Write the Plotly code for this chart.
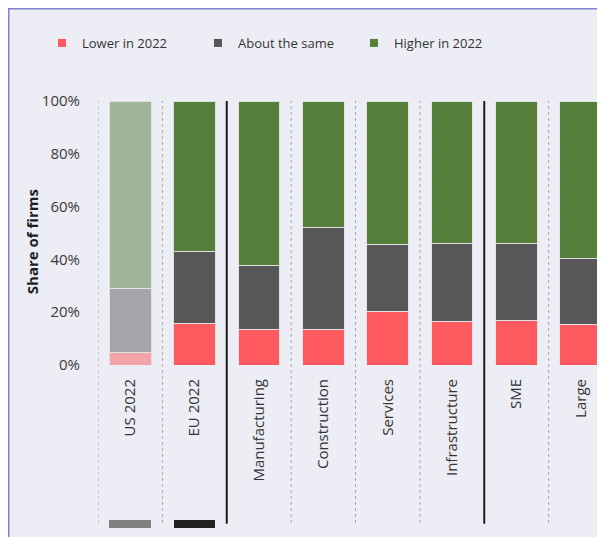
import plotly.graph_objects as go

categories = ["US 2022", "EU 2022", "Manufacturing", "Construction", "Services",
              "Infrastructure", "SME", "Large"]
lower = [4.8, 15.8, 13.3, 13.3, 20.4, 16.3, 16.7, 15.4]
same = [24.3, 27.3, 24.4, 38.8, 25.1, 29.8, 29.2, 24.8]
higher = [70.9, 56.9, 62.3, 47.9, 54.5, 53.9, 54.1, 59.8]
series_names = ["Lower in 2022", "About the same", "Higher in 2022"]
y_ticks = [0, 20, 40, 60, 80, 100]
marker_cats = ["US 2022", "EU 2022"]
marker_vals = [1, 1]

base_colors = ["#FF5A5F", "#58585A", "#557F3A"]
light_colors = ["#F4A3A8", "#A5A4AA", "#A0B597"]
marker_colors = ["#808080", "#222222"]

FONT = "Open Sans"
L, T, B_PLOT, W_PLOT = 90, 93, 520, 515
H_PLOT = B_PLOT - T


def px_x(p):
    return (p - L) / W_PLOT


def px_y(p):
    return (B_PLOT - p) / H_PLOT


fig = go.Figure()

for i, (name, vals) in enumerate(zip(series_names, [lower, same, higher])):
    cols = [light_colors[i] if c.startswith("US") else base_colors[i] for c in categories]
    fig.add_trace(go.Bar(
        x=categories, y=vals, name=name, showlegend=False,
        marker=dict(color=cols, line=dict(color="rgba(225,225,225,1)", width=1)),
    ))
    fig.add_trace(go.Scatter(
        x=[None], y=[None], mode="markers", name=name,
        marker=dict(symbol="square", size=8, color=base_colors[i]),
    ))

fig.add_trace(go.Bar(
    x=marker_cats, y=marker_vals, yaxis="y2", showlegend=False,
    marker=dict(color=marker_colors, line=dict(width=0)),
))

shapes = []
# outer panel border
shapes.append(dict(type="rect", xref="paper", yref="paper",
                   x0=px_x(0.75), x1=1.2, y0=-0.2, y1=px_y(0.75),
                   fillcolor="rgba(0,0,0,0)", line=dict(color="#8181D4", width=1.5),
                   layer="above"))
ybot = px_y(515)
for xpos in [-0.5, 0.5, 2.5, 3.5, 4.5, 6.5]:
    shapes.append(dict(type="line", xref="x", yref="paper", x0=xpos, x1=xpos,
                       y0=ybot, y1=1, line=dict(color="#A8A8A8", width=1, dash="dot"),
                       layer="below"))
for xpos in [1.5, 5.5]:
    shapes.append(dict(type="line", xref="x", yref="paper", x0=xpos, x1=xpos,
                       y0=ybot - 0.002, y1=1, line=dict(color="#1E1E1E", width=2),
                       layer="above"))

fig.update_layout(
    width=605, height=537,
    margin=dict(l=L, r=605 - L - W_PLOT, t=T, b=537 - B_PLOT),
    paper_bgcolor="#EDEDF5", plot_bgcolor="rgba(0,0,0,0)",
    barmode="stack", bargap=0.35,
    font=dict(family=FONT, size=14, color="#3A3A3A"),
    showlegend=True,
    legend=dict(orientation="h", traceorder="normal",
                x=px_x(34), xanchor="left",
                y=px_y(35), yanchor="middle",
                font=dict(size=13, color="#333333"),
                entrywidth=111, entrywidthmode="pixels",
                bgcolor="rgba(0,0,0,0)"),
    xaxis=dict(type="category", categoryorder="array", categoryarray=categories,
               range=[-0.5, 7.5], tickangle=-90, anchor="y",
               showgrid=False, zeroline=False, showline=False, ticks="",
               ticklabelstandoff=10, tickfont=dict(size=15, color="#333333")),
    yaxis=dict(domain=[px_y(357), 1], range=[0, 100],
               tickvals=y_ticks, ticktext=[f"{v}%" for v in y_ticks],
               showgrid=False, zeroline=False, showline=False, ticks="",
               ticklabelstandoff=17, tickfont=dict(size=15, color="#3A3A3A")),
    yaxis2=dict(domain=[0, 8 / H_PLOT], range=[0, 1], visible=False, anchor="x"),
    shapes=shapes,
    annotations=[dict(text="<b>Share of firms</b>", textangle=-90,
                      xref="paper", yref="paper",
                      x=px_x(23.7), y=px_y(233.5),
                      xanchor="center", yanchor="middle", showarrow=False,
                      font=dict(size=15, color="#1E1E1E"))],
)

fig.write_html("out.html")
